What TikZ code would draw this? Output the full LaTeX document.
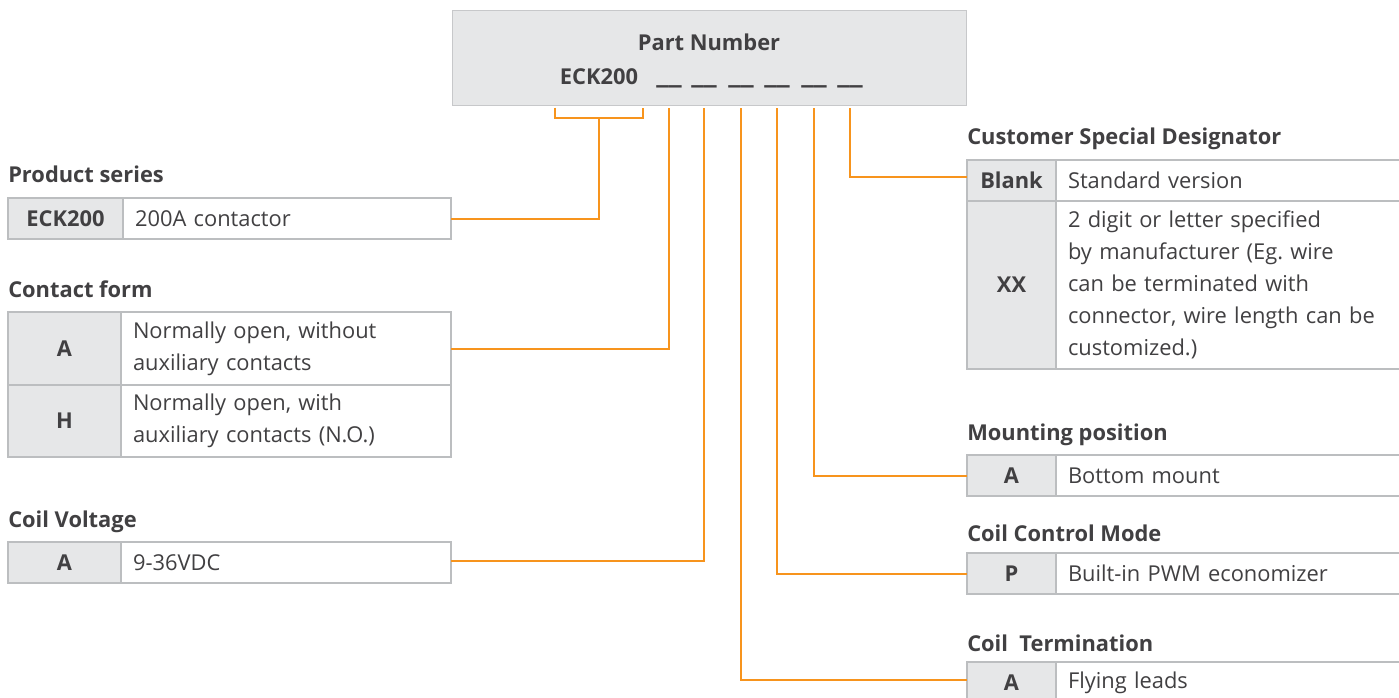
\documentclass[tikz,border=0pt]{standalone}
\usepackage{fontspec}
\setmainfont{Open Sans}
\usepackage{graphicx}
\usetikzlibrary{calc}
\definecolor{txt}{HTML}{414042}
\definecolor{keyfill}{HTML}{E6E7E8}
\definecolor{bord}{HTML}{BCBEC0}
\definecolor{topbord}{HTML}{C7C8CA}
\definecolor{org}{HTML}{F7941D}
\newcommand\pxl[1]{(#1)*0.75pt}
\newcommand\fs{\fontsize{16.4}{24}\selectfont}
\newcommand\blankmark{\raisebox{1.2pt}{\scalebox{1.4}[1.6]{\_\_}}}
\begin{document}
\begin{tikzpicture}[x=0.75pt,y=-0.75pt,
  every node/.style={text=txt, font=\fs},
  cell/.style={draw=bord, line width=1.1pt, inner sep=0pt, outer sep=0pt, anchor=north west},
  keycell/.style={cell, fill=keyfill, font=\fs\bfseries, align=center},
  valcell/.style={cell, fill=white, align=left, inner xsep=\pxl{12}},
  cw/.style={minimum width=\pxl{#1}},
  vw/.style={minimum width=\pxl{#1}, text width=\pxl{#1-24}},
  ch/.style={minimum height=\pxl{#1}},
  head/.style={anchor=base west, inner sep=0pt, font=\fs\bfseries},
  bold/.style={anchor=base, inner sep=0pt, font=\fs\bfseries},
  conn/.style={draw=org, line width=1.5pt},
  topbox/.style={draw=topbord, fill=keyfill, line width=1.1pt, anchor=north west, inner sep=0pt}
]
\useasboundingbox (0,0) rectangle (1399,697);

% part number box
\node[topbox, cw=514, ch=95] (top) at (452,10) {};
\node[bold] (pn) at (709,50) {Part Number};
\node[bold] (eck) at (599,84) {ECK200};
\foreach \i/\x in {1/669,2/704,3/741,4/777,5/814,6/850}
  \node[bold] (u\i) at (\x,84) {\blankmark};

% left tables
\node[head] (hps) at (8,182) {Product series};
\node[keycell, cw=115, ch=41] (psk) at (8,198) {ECK200};
\node[valcell, vw=328, ch=41] (psv) at (123,198) {200A contactor};

\node[head] (hcf) at (8,297) {Contact form};
\node[keycell, cw=113, ch=73] (cfak) at (8,312) {A};
\node[valcell, vw=330, ch=73] (cfav) at (121,312) {Normally open, without\\auxiliary contacts};
\node[keycell, cw=113, ch=72] (cfhk) at (8,385) {H};
\node[valcell, vw=330, ch=72] (cfhv) at (121,385) {Normally open, with\\auxiliary contacts (N.O.)};

\node[head] (hcv) at (8,527) {Coil Voltage};
\node[keycell, cw=113, ch=41] (cvk) at (8,542) {A};
\node[valcell, vw=330, ch=41] (cvv) at (121,542) {9-36VDC};

% right tables
\node[head] (hcsd) at (967,144) {Customer Special Designator};
\node[keycell, cw=89, ch=41] (blk) at (967,160) {Blank};
\node[valcell, vw=360, ch=41] (blv) at (1056,160) {Standard version};
\node[keycell, cw=89, ch=168] (xxk) at (967,201) {XX};
\node[valcell, vw=360, ch=168] (xxv) at (1056,201) {2 digit or letter specified\\by manufacturer (Eg.\ wire\\can be terminated with\\connector, wire length can be\\customized.)};

\node[head] (hmp) at (967,440) {Mounting position};
\node[keycell, cw=89, ch=41] (mpk) at (967,455) {A};
\node[valcell, vw=360, ch=41] (mpv) at (1056,455) {Bottom mount};

\node[head] (hcc) at (967,541) {Coil Control Mode};
\node[keycell, cw=89, ch=41] (cck) at (967,553) {P};
\node[valcell, vw=360, ch=41] (ccv) at (1056,553) {Built-in PWM economizer};

\node[head] (hct) at (967,651) {Coil\ \ Termination};
\node[keycell, cw=89, ch=41] (ctk) at (967,662) {A};
\node[valcell, vw=360, ch=41] (ctv) at (1056,662) {Flying leads};

% connectors
\coordinate (bl) at (554.5,107.5);
\coordinate (br) at (642.5,107.5);
\draw[conn] (bl) -- ++(0,10) -| (br);
\draw[conn] ($(bl)!0.5!(br)+(0,10)$) |- (psv.east);
\draw[conn] ([yshift=-1.5pt]u1 |- top.south) |- (cfav.east);
\draw[conn] ([yshift=-1.5pt]u2 |- top.south) |- ([yshift=1.5pt]cvv.east);
\draw[conn] ([yshift=-1.5pt]u3 |- top.south) |- ([yshift=2pt]ctk.west);
\draw[conn] ([yshift=-1.5pt]u4 |- top.south) |- (cck.west);
\draw[conn] ([yshift=-1.5pt]u5 |- top.south) |- (mpk.west);
\draw[conn] ([yshift=-1.5pt]u6 |- top.south) |- ([yshift=2.5pt]blk.west);
\end{tikzpicture}
\end{document}
